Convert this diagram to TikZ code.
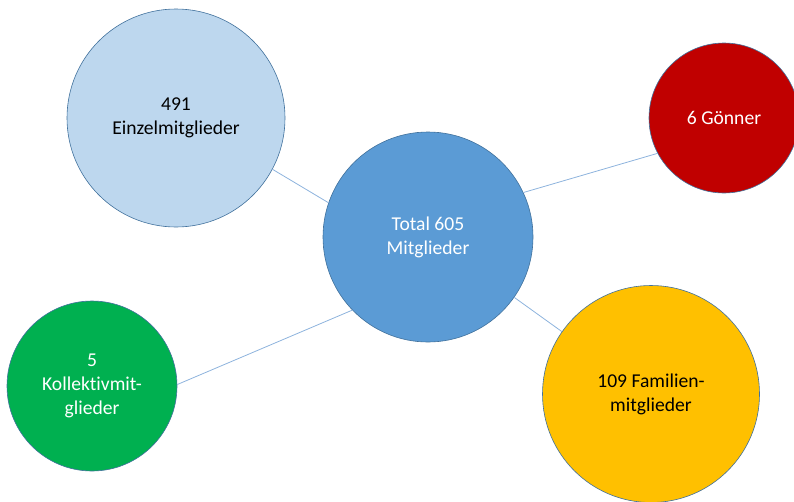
\documentclass[tikz,border=0pt]{standalone}
\usepackage{fontspec}
\setmainfont{Carlito}[Ligatures=NoCommon]
\definecolor{lblue}{HTML}{BDD7EE}
\definecolor{mblue}{HTML}{5B9BD5}
\definecolor{dred}{HTML}{C00000}
\definecolor{mgreen}{HTML}{00B050}
\definecolor{myellow}{HTML}{FFC000}
\definecolor{rim}{HTML}{41719C}
\definecolor{linkc}{HTML}{8DB3DD}
\begin{document}
\begin{tikzpicture}[x=1pt,y=-1pt,
  bubble/.style={circle,draw=rim,line width=0.6pt,inner sep=0pt,align=center,
    font=\fontsize{19.6}{24}\selectfont},
  link/.style={draw=linkc,line width=0.8pt}]
\useasboundingbox (0,0) rectangle (794,501);
\node[bubble,fill=mblue,text=white,minimum size=210pt] (c) at (428,237) {Total 605\\Mitglieder};
\node[bubble,fill=lblue,text=black,minimum size=218pt] (lb) at (176,118) {491\\Einzelmitglieder};
\node[bubble,fill=dred,text=white,minimum size=150pt] (rd) at (724,118) {6 Gönner};
\node[bubble,fill=mgreen,text=white,minimum size=170pt] (gr) at (92,386) {5\\Kollektivmit-\\glieder};
\node[bubble,fill=myellow,text=black,minimum size=217pt] (ye) at (651,394) {109 Familien-\\mitglieder};
\draw[link] (lb.-28) -- (c.161);
\draw[link] (c.25) -- (rd.208);
\draw[link] (gr.1) -- (c.224);
\draw[link] (c.-35) -- (ye.145);
\end{tikzpicture}
\end{document}
